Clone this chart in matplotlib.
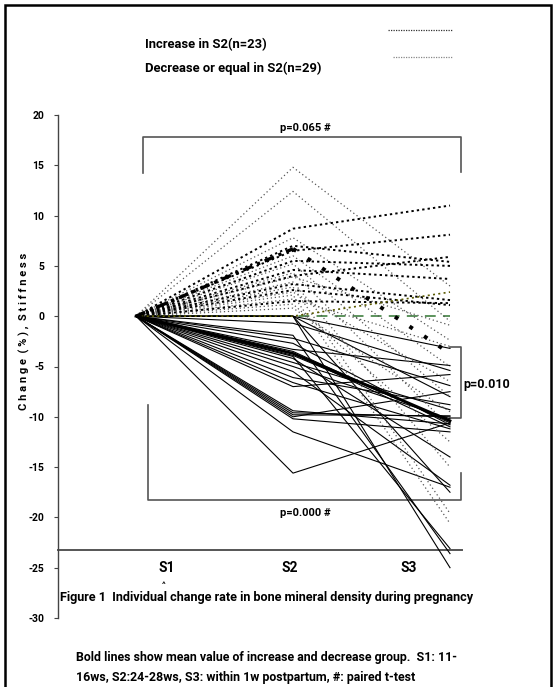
import matplotlib
matplotlib.use('Agg')
import matplotlib.pyplot as plt
from matplotlib.lines import Line2D
from matplotlib.patches import Rectangle

plt.rcParams['font.family'] = ['Roboto', 'DejaVu Sans']
plt.rcParams['font.weight'] = 'bold'
plt.rcParams['axes.unicode_minus'] = False

# ---------------- data ----------------
stages = ['S1', 'S2', 'S3']
yticks = [20, 15, 10, 5, 0, -5, -10, -15, -20, -25, -30]

# increase group (n=23): dark dotted lines
inc_dark_s2 = [8.7, 6.5, 7.0, 4.0, 4.6, 3.2, 2.6, 1.5, 5.5]
inc_dark_s3 = [11.0, 8.1, 5.4, 5.9, 3.7, 1.6, 1.1, 1.3, 5.0]
# increase group: light dotted lines
inc_light_s2 = [14.8, 12.4, 7.8, 6.0, 5.2, 4.3, 3.9, 3.4, 2.9, 2.4, 2.1, 1.7, 1.2, 0.8]
inc_light_s3 = [3.0, -0.5, -2.4, -5.0, -8.0, -11.0, -0.9, -15.0, -19.6, -6.5, -20.6, -3.0, -12.5, -9.5]

# decrease or equal group (n=29): solid lines
dec_s2 = [0, 0, 0, 0, -0.7, -1.9, -2.2, -2.7, -3.3, -3.5, -3.7, -3.9, -4.0, -4.2,
          -4.6, -5.0, -5.5, -6.1, -6.6, -7.0, -9.4, -9.6, -9.8, -10.0, -10.2, -11.5, -15.6]
dec_s3 = [-3.2, -25.0, -17.5, -8.0, -5.4, -23.6, -6.9, -10.8, -4.9, -10.6, -11.0, -10.4,
          -23.1, -14.0, -9.3, -10.2, -16.8, -8.8, -11.2, -5.8, -10.7, -10.0, -9.9, -7.5,
          -11.5, -17.0, -10.6]
equal_green = [0, 0, 0]
equal_olive = [0, 0, 2.4]

mean_increase = [0, 6.7, -3.7]
mean_decrease = [0, -3.7, -10.4]

p_labels = ['p=0.065 #', 'p=0.000 #', 'p=0.010']

# ---------------- figure ----------------
W, H = 555, 687
fig = plt.figure(figsize=(W / 100, H / 100), dpi=100)

def fx(px):
    return px / W

def fy(py):
    return 1 - py / H

ax_left, ax_right, ax_top, ax_bot = 58, 470, 115, 618
ax = fig.add_axes([fx(ax_left), fy(ax_bot), (ax_right - ax_left) / W, (ax_bot - ax_top) / H])
ax.patch.set_alpha(0)
x0 = (ax_left - 136) / 157.0
x1 = (ax_right - 136) / 157.0
ax.set_xlim(x0, x1)
ax.set_ylim(-30, 20)
for s in ['top', 'right', 'bottom']:
    ax.spines[s].set_visible(False)
ax.spines['left'].set_color('#444444')
ax.spines['left'].set_linewidth(1.0)
ax.set_xticks([])
ax.set_yticks(yticks)
ax.set_yticklabels([str(t) for t in yticks], fontsize=7.5, fontweight='bold')
ax.tick_params(axis='y', direction='out', length=3, width=0.8, color='#444444', pad=7)

xs = [0, 1, 2]

# green equal line (dashed)
ax.plot(xs, equal_green, color='#4f8a4f', lw=1.3, ls=(0, (6, 4)), zorder=2)

# decrease group
for a, b in zip(dec_s2, dec_s3):
    ax.plot(xs, [0, a, b], color='black', lw=0.8, zorder=3)

# light dotted increase
for a, b in zip(inc_light_s2, inc_light_s3):
    ax.plot(xs, [0, a, b], color='#555555', lw=0.9, ls=(0, (1, 2.2)), zorder=3)

# dark dotted increase
for a, b in zip(inc_dark_s2, inc_dark_s3):
    ax.plot(xs, [0, a, b], color='black', lw=1.4, ls=(0, (1.2, 1.6)), zorder=3)

ax.plot(xs, equal_olive, color='#5a5a00', lw=1.2, ls=(0, (1.2, 2)), zorder=3)

# mean lines
ax.plot(xs[:2], mean_increase[:2], color='black', lw=2.4, ls=(0, (3, 1.5, 1, 1.5)), zorder=4)
ax.plot(xs[1:], mean_increase[1:], color='black', lw=2.8, ls=(0, (1, 3.5)), zorder=4)
ax.plot(xs, mean_decrease, color='black', lw=2.0, zorder=4)

# brackets
bc = '#555555'
# top
ax.plot([0.045, 0.045, 2.07, 2.07], [14.2, 17.8, 17.8, 14.3], color=bc, lw=1.2, clip_on=False)
ax.text(1.08, 18.2, p_labels[0], ha='center', va='bottom', fontsize=8, fontweight='bold')
# bottom
ax.plot([0.076, 0.076, 2.07, 2.07], [-8.8, -18.3, -18.3, -15.6], color=bc, lw=1.2, clip_on=False)
ax.text(1.08, -19.6, p_labels[1], ha='center', va='center', fontsize=8, fontweight='bold')
# right
ax.plot([2.0, 2.07, 2.07, 2.0], [-3.1, -3.1, -10.1, -10.1], color=bc, lw=1.2, clip_on=False)
ax.text(2.085, -6.8, p_labels[2], ha='left', va='center', fontsize=9, fontweight='bold')

# baseline
ax.plot([x0, (462 - 136) / 157.0], [-23.2, -23.2], color='#555555', lw=1.4, clip_on=False)

# stage labels
for px, lab in zip([167, 290, 409], stages):
    fig.text(fx(px), fy(568), lab, ha='center', va='center', fontsize=10, fontweight='bold')
fig.text(fx(164), fy(585), '^', ha='center', va='center', fontsize=6, fontweight='bold')

# y label
fig.text(fx(24), fy(331), 'C h a n g e  ( % ) ,  S t i f f n e s s', rotation=90,
         ha='center', va='center', fontsize=8, fontweight='bold')

# legend
fig.text(fx(145), fy(45), 'Increase in S2(n=23)', ha='left', va='center', fontsize=9.4, fontweight='bold')
fig.text(fx(145), fy(68), 'Decrease or equal in S2(n=29)', ha='left', va='center', fontsize=9.4, fontweight='bold')
fig.add_artist(Line2D([fx(388), fx(452)], [fy(30), fy(30)], color='#333333', lw=0.9, ls=(0, (1, 1))))
fig.add_artist(Line2D([fx(393), fx(452)], [fy(57), fy(57)], color='#888888', lw=0.9, ls=(0, (1, 1))))

# caption
fig.text(fx(60), fy(598), 'Figure 1  Individual change rate in bone mineral density during pregnancy',
         ha='left', va='center', fontsize=9.1, fontweight='bold')
fig.text(fx(76), fy(658), 'Bold lines show mean value of increase and decrease group.  S1: 11-',
         ha='left', va='center', fontsize=8.9, fontweight='bold')
fig.text(fx(76), fy(677), '16ws, S2:24-28ws, S3: within 1w postpartum, #: paired t-test',
         ha='left', va='center', fontsize=8.9, fontweight='bold')

# border
fig.add_artist(Rectangle((fx(5), fy(700)), fx(551) - fx(5), fy(5) - fy(700),
                         fill=False, edgecolor='black', lw=1.8, transform=fig.transFigure, clip_on=False))

fig.savefig('out.png', dpi=100)
